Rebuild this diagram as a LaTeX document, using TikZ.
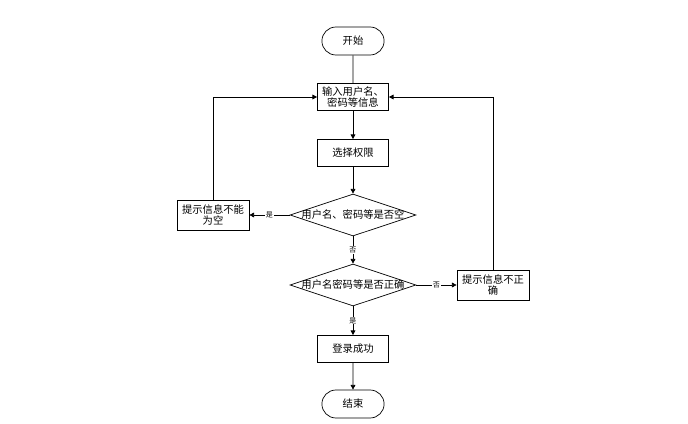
\documentclass[tikz,border=0pt]{standalone}
\usepackage{fontspec}
\newfontfamily\cjk{Noto Sans CJK SC}
\usetikzlibrary{shapes.geometric,shapes.misc,arrows.meta}

\begin{document}
\begin{tikzpicture}[x=0.03cm,y=-0.03cm,line width=0.6pt,
  every node/.style={font=\cjk\fontsize{8.8}{10}\selectfont},
  term/.style={rounded rectangle,draw,minimum width=2.1cm,minimum height=0.84cm},
  box/.style={rectangle,draw,align=center,inner sep=0.5pt,minimum width=2.13cm,minimum height=0.81cm},
  sidebox/.style={rectangle,draw,align=center,inner sep=0.5pt,minimum width=2.16cm,minimum height=0.9cm},
  dec/.style={diamond,draw,aspect=3,inner ysep=0pt,inner xsep=-14pt,minimum width=3.78cm,minimum height=1.26cm},
  lbl/.style={fill=white,inner sep=0.5pt,font=\cjk\fontsize{6}{6}\selectfont},
  arr/.style={-{Triangle[length=4pt,width=4pt]}}]
\useasboundingbox (0,0) rectangle (688,424);
%
\node (start) at (353,41) [term] {开始};
\node (input) at (353,97) [box] {输入用户名、\\密码等信息};
\node (sel) at (353,153) [box] {选择权限};
\node (q1) at (353,215) [dec] {用户名、密码等是否空};
\node (q2) at (353,285) [dec] {用户名密码等是否正确};
\node (ok) at (353,349) [box] {登录成功};
\node (stop) at (353,404) [term] {结束};
%
\node (empty) at (213,215) [sidebox] {提示信息不能\\为空};
\node (wrong) at (493,285) [sidebox] {提示信息不正\\确};
%%
\draw (start) -- (input);
\draw[arr] (input) -- (sel);
\draw[arr] (sel) -- (q1);
\draw[arr] (q1) -- node[lbl] {否} (q2);
\draw[arr] (q2) -- node[lbl] {是} (ok);
\draw[arr] (ok) -- (stop);
%
\draw[arr] (q1) -- node[lbl] {是} (empty);
\draw[arr] (q2) -- node[lbl] {否} (wrong);
%
\draw[arr] (empty) |- (input);
\draw[arr] (wrong) |- (input);
\end{tikzpicture}
\end{document}
